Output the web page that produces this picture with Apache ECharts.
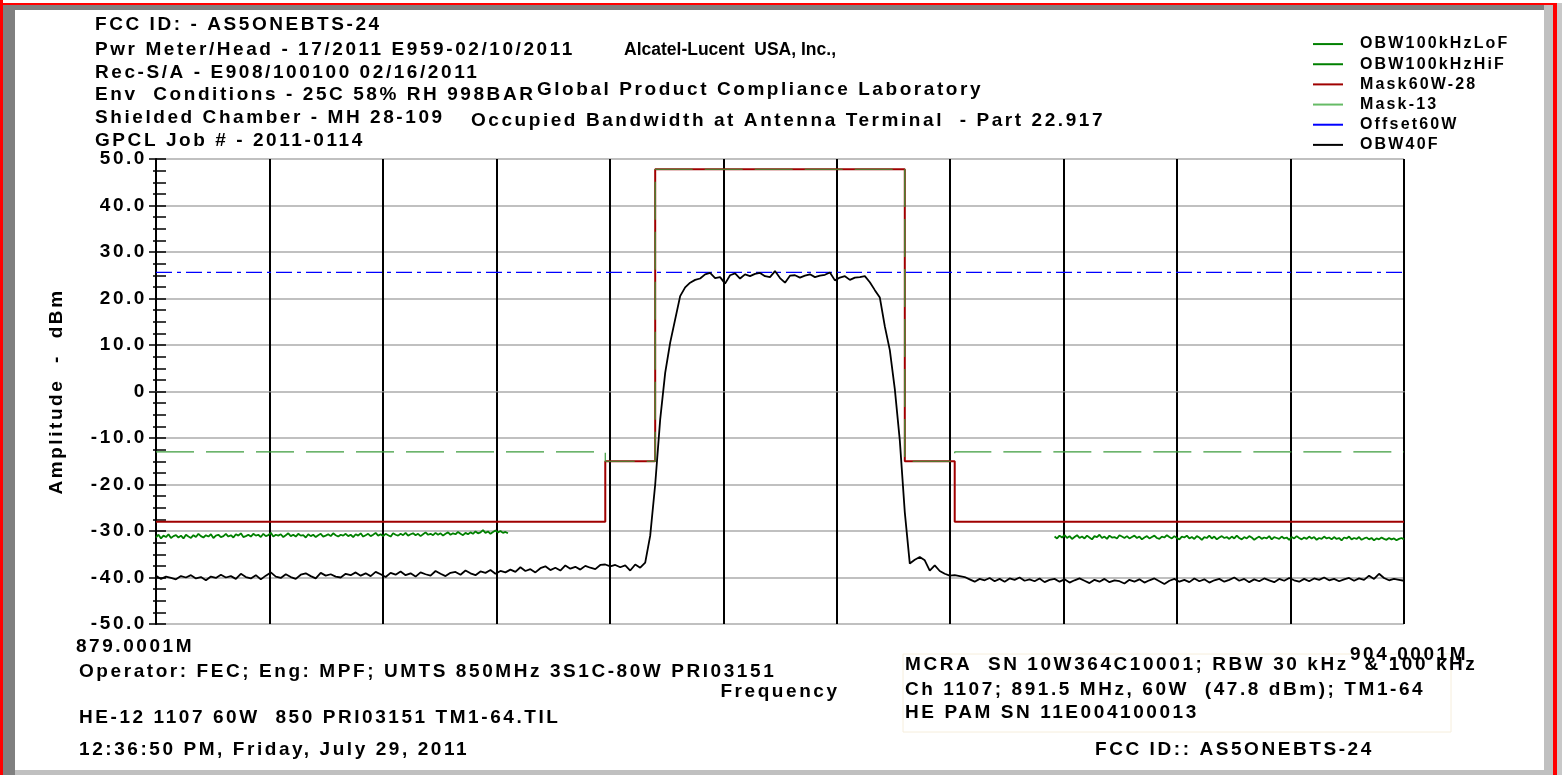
<!DOCTYPE html>
<html>
<head>
<meta charset="utf-8">
<script src="https://cdn.jsdelivr.net/npm/echarts@6/dist/echarts.min.js"></script>
<style>
html,body{margin:0;padding:0;background:#fff;}
#chart{width:1562px;height:775px;}
</style>
</head>
<body>
<div id="chart"></div>
<script>
// ---------- data ----------
const F0 = 879.0001;            // start frequency (MHz)
const F1 = 904.0001;            // stop frequency (MHz)
const SPAN = 25;                // MHz
const X_DIVISIONS = 11;
const xEndLabels = ['879.0001M', '904.0001M'];
const yMin = -50, yMax = 50, yStep = 10;

const headerLines = [
  'FCC ID: - AS5ONEBTS-24',
  'Pwr Meter/Head - 17/2011 E959-02/10/2011',
  'Rec-S/A - E908/100100 02/16/2011',
  'Env  Conditions - 25C 58% RH 998BAR',
  'Shielded Chamber - MH 28-109',
  'GPCL Job # - 2011-0114'
];
const titleLines = [
  'Alcatel-Lucent  USA, Inc.,',
  'Global Product Compliance Laboratory',
  'Occupied Bandwidth at Antenna Terminal  - Part 22.917'
];
const footLeft = [
  'Operator: FEC; Eng: MPF; UMTS 850MHz 3S1C-80W PRI03151',
  'HE-12 1107 60W  850 PRI03151 TM1-64.TIL',
  '12:36:50 PM, Friday, July 29, 2011'
];
const footRight = [
  'MCRA  SN 10W364C10001; RBW 30 kHz  & 100 kHz',
  'Ch 1107; 891.5 MHz, 60W  (47.8 dBm); TM1-64',
  'HE PAM SN 11E004100013'
];
const footFcc = 'FCC ID:: AS5ONEBTS-24';
const xAxisName = 'Frequency';
const yAxisName = 'Amplitude  -  dBm';

const seriesNames = ['OBW100kHzLoF', 'OBW100kHzHiF', 'Mask60W-28', 'Mask-13', 'Offset60W', 'OBW40F'];

// masks (MHz, dBm)
const maskFreq   = [879.0001, 888.0, 888.0, 889.0, 889.0, 894.0, 894.0, 895.0, 895.0, 904.0001];
const mask60W    = [-28, -28, -15, -15, 47.8, 47.8, -15, -15, -28, -28];
const mask13     = [-13, -13, -15, -15, 47.8, 47.8, -15, -15, -13, -13];
const offsetFreq = [879.0001, 904.0001];
const offset60W  = [25.6, 25.6];

// OBW 100 kHz low side trace: start 879.0001 MHz, step 0.05 MHz
const lofStart = 879.0001, lofStep = 0.05;
const lofValues = [
-31.4,-30.8,-31.6,-31.0,-31.3,-30.7,-31.5,-31.1,-30.9,-31.4,
-31.0,-31.6,-30.8,-31.2,-31.5,-30.9,-31.3,-30.6,-31.1,-31.4,
-30.9,-31.2,-30.7,-31.5,-31.0,-30.8,-31.3,-31.1,-30.6,-31.2,
-30.9,-31.4,-30.7,-31.0,-30.5,-31.3,-31.1,-30.8,-31.2,-30.6,
-31.0,-30.8,-31.3,-30.6,-31.1,-30.9,-30.4,-31.2,-30.8,-31.0,
-30.7,-31.3,-30.9,-30.5,-31.1,-30.8,-31.2,-30.6,-31.0,-30.9,
-31.4,-30.7,-31.1,-30.8,-31.3,-30.9,-30.6,-31.2,-31.0,-30.7,
-31.1,-30.5,-30.9,-31.2,-30.8,-31.0,-30.6,-31.1,-30.8,-31.3,
-30.7,-31.0,-30.5,-31.2,-30.9,-30.6,-31.1,-30.8,-30.4,-31.0,
-30.7,-31.1,-30.6,-30.9,-31.2,-30.5,-30.8,-31.0,-30.6,-30.9,
-30.4,-31.0,-30.7,-30.5,-30.9,-30.6,-31.1,-30.7,-30.3,-30.8,
-30.6,-30.9,-30.4,-30.8,-30.5,-31.0,-30.6,-30.3,-30.8,-30.5,
-30.7,-30.2,-30.6,-30.9,-30.4,-30.7,-30.3,-30.6,-30.1,-30.5,
-30.3,-29.8,-30.4,-30.1,-30.6,-30.2,-29.9,-30.3,-30.0,-30.4,
-30.2,-30.5
];

// OBW 100 kHz high side trace: start 897.0001 MHz, step 0.05 MHz
const hifStart = 897.0001, hifStep = 0.05;
const hifValues = [
-31.2,-31.6,-31.0,-31.4,-30.9,-31.5,-31.1,-31.7,-31.3,-30.9,
-31.5,-31.2,-31.6,-31.0,-31.4,-31.8,-31.1,-31.3,-30.8,-31.5,
-31.2,-31.7,-31.0,-31.4,-31.3,-31.6,-30.9,-31.2,-31.5,-31.1,
-31.6,-31.3,-31.0,-31.5,-31.2,-31.8,-31.4,-31.1,-31.6,-31.3,
-31.0,-31.5,-31.7,-31.2,-31.4,-30.9,-31.3,-31.6,-31.1,-31.5,
-31.8,-31.2,-31.4,-31.0,-31.6,-31.3,-31.7,-31.1,-31.4,-31.9,
-31.3,-31.5,-31.0,-31.6,-31.2,-31.8,-31.4,-31.1,-31.5,-31.3,
-31.7,-31.2,-31.6,-31.0,-31.5,-31.8,-31.3,-31.6,-31.1,-31.4,
-31.9,-31.5,-31.2,-31.7,-31.4,-31.6,-31.1,-31.8,-31.3,-31.5,
-31.7,-31.2,-31.6,-31.4,-31.9,-31.3,-31.6,-31.1,-31.5,-31.8,
-31.4,-31.7,-31.2,-31.6,-31.3,-31.9,-31.5,-31.7,-31.2,-31.6,
-31.4,-31.8,-31.3,-31.7,-31.5,-32.0,-31.4,-31.6,-31.2,-31.8,
-31.5,-31.7,-31.3,-31.9,-31.6,-31.4,-31.8,-31.5,-32.0,-31.6,
-31.8,-31.4,-31.7,-31.9,-31.5,-31.8,-31.6,-32.0,-31.7,-31.5,
-31.8
];

// OBW 40 trace: start 879.0001 MHz, step 0.1 MHz
const obwStart = 879.0001, obwStep = 0.1;
const obwValues = [
-39.6,-40.3,-39.8,-40.1,-40.4,-39.7,-40.0,-39.5,-40.2,-39.9,
-40.6,-39.8,-40.1,-39.4,-40.0,-39.7,-40.3,-39.2,-39.9,-40.2,
-39.5,-40.4,-39.6,-38.9,-39.8,-40.1,-39.3,-39.9,-40.3,-39.4,
-39.1,-39.7,-40.2,-39.0,-39.6,-39.3,-39.8,-40.0,-39.2,-39.5,
-38.9,-39.6,-39.1,-39.7,-38.8,-39.3,-39.9,-39.0,-39.4,-38.7,
-39.5,-39.1,-39.8,-38.9,-39.3,-39.6,-38.6,-39.2,-39.7,-39.0,
-38.8,-39.4,-38.5,-39.1,-39.5,-38.7,-39.0,-38.4,-39.2,-38.6,
-38.9,-38.3,-38.8,-37.8,-38.6,-38.2,-38.9,-38.0,-37.6,-38.4,
-37.9,-38.5,-37.4,-38.1,-37.7,-38.3,-37.5,-37.9,-38.2,-37.3,
-37.2,-37.6,-37.3,-37.8,-37.4,-38.5,-37.2,-37.9,-36.8,-31.0,
-20.0,-6.0,4.0,10.5,15.5,20.5,22.4,23.4,24.0,24.3,
25.2,25.5,24.4,24.6,23.2,25.0,25.4,24.3,25.2,24.8,
25.3,25.5,24.8,24.6,25.9,24.4,23.4,24.9,25.0,24.5,
24.9,25.2,24.6,24.9,25.1,25.6,23.9,24.5,24.8,24.0,
24.5,24.6,24.8,23.5,21.8,20.2,14.0,8.9,0.5,-10.5,
-26.0,-37.0,-36.2,-35.6,-36.3,-38.5,-37.4,-38.6,-39.2,-39.6,
-39.5,-39.7,-39.9,-40.4,-40.9,-40.3,-40.6,-40.1,-40.8,-40.3,
-40.9,-40.2,-40.5,-40.0,-40.7,-40.4,-40.8,-40.2,-41.0,-40.5,
-40.3,-40.9,-40.4,-41.1,-40.6,-40.2,-40.7,-41.2,-40.5,-40.9,
-40.3,-41.0,-40.6,-40.8,-41.3,-40.5,-40.9,-40.4,-41.1,-40.6,
-40.2,-40.8,-41.4,-40.7,-40.3,-40.9,-40.5,-41.0,-40.2,-40.8,
-40.4,-41.1,-40.6,-40.3,-40.9,-40.5,-40.0,-40.7,-40.3,-41.0,
-40.4,-40.8,-40.2,-40.6,-41.0,-40.3,-40.7,-40.1,-40.6,-40.9,
-40.3,-40.8,-40.2,-40.5,-40.0,-40.6,-40.3,-40.8,-40.4,-40.1,
-40.7,-40.2,-40.5,-39.6,-40.3,-39.2,-40.1,-40.6,-40.3,-40.5,
-40.7
];

// ---------- text spacing (the reference uses widely spaced bold glyphs) ----------
(function () {
  const P = CanvasRenderingContext2D.prototype;
  if (!('letterSpacing' in P)) return;
  const setLS = function (ctx) {
    const f = ctx.font || '';
    const m = /(\d+(?:\.\d+)?)px\s+"?Liberation/.exec(f);
    const s = m ? parseFloat(m[1]) * 0.135 : 0;
    ctx.letterSpacing = s.toFixed(2) + 'px';
  };
  const ft = P.fillText, st = P.strokeText, mt = P.measureText;
  P.fillText = function () { setLS(this); return ft.apply(this, arguments); };
  P.strokeText = function () { setLS(this); return st.apply(this, arguments); };
  P.measureText = function () { setLS(this); return mt.apply(this, arguments); };
})();

// ---------- build ----------
const FONT = '"Liberation Sans", Arial, sans-serif';       // spaced
const FONT_PLAIN = 'Arial, "Liberation Sans", sans-serif'; // unspaced
const toXY = (freqs, vals) => vals.map((v, i) => [freqs[i] - F0, v]);
const stepXY = (start, step, vals) => vals.map((v, i) => [start + i * step - F0, v]);

const chart = echarts.init(document.getElementById('chart'), null, {renderer: 'canvas'});

const graphics = [];
graphics.push(
  {type: 'rect', shape: {x: 0, y: 0, width: 1562, height: 775}, style: {fill: '#ffffff'}, silent: true, z: -10},
  {type: 'rect', shape: {x: 1556, y: 3, width: 6, height: 772}, style: {fill: '#c8c8c8'}, silent: true, z: -9},
  {type: 'rect', shape: {x: 3, y: 5, width: 1542, height: 5}, style: {fill: '#808080'}, silent: true, z: -9},
  {type: 'rect', shape: {x: 2, y: 5, width: 13, height: 770}, style: {fill: '#808080'}, silent: true, z: -9},
  {type: 'rect', shape: {x: 1544, y: 5, width: 10, height: 770}, style: {fill: '#c0c0c0'}, silent: true, z: -9},
  {type: 'rect', shape: {x: 15, y: 770, width: 1539, height: 5}, style: {fill: '#c0c0c0'}, silent: true, z: -9},
  {type: 'rect', shape: {x: 0, y: 0, width: 3, height: 775}, style: {fill: '#ff0000'}, silent: true, z: -8},
  {type: 'rect', shape: {x: 0, y: 3, width: 1557, height: 2}, style: {fill: '#ff0000'}, silent: true, z: -8},
  {type: 'rect', shape: {x: 1553, y: 3, width: 4, height: 772}, style: {fill: '#ff0000'}, silent: true, z: -8},
  {type: 'rect', shape: {x: 903, y: 654, width: 548, height: 78}, style: {fill: 'none', stroke: '#f6eedc', lineWidth: 1}, silent: true, z: -7}
);
const txt = (text, x, y, size, align, fam) => ({
  type: 'text', silent: true, z: 10,
  style: {text: text, x: x, y: y, font: 'bold ' + size + 'px ' + (fam || FONT), fill: '#000', align: align || 'left', verticalAlign: 'middle'}
});
const headerY = [25, 50, 73, 95, 118, 141];
headerLines.forEach((t, i) => graphics.push(txt(t, 95, headerY[i], 19)));
graphics.push(txt(titleLines[0], 730, 50, 17.5, 'center', FONT_PLAIN));
graphics.push(txt(titleLines[1], 760, 90, 19, 'center'));
graphics.push(txt(titleLines[2], 788, 121, 19, 'center'));
const footLeftY = [672, 718, 750];
footLeft.forEach((t, i) => graphics.push(txt(t, 79, footLeftY[i], 19)));
const footRightY = [665, 690, 713];
footRight.forEach((t, i) => graphics.push(txt(t, 905, footRightY[i], 19)));
graphics.push(txt(footFcc, 1095, 750, 19));

const option = {
  animation: false,
  backgroundColor: 'transparent',
  graphic: graphics,
  grid: {left: 156, right: 158, top: 159, bottom: 151, containLabel: false},
  legend: {
    orient: 'vertical', left: 1313, top: 35, padding: 0,
    itemWidth: 30, itemHeight: 16, itemGap: 2,
    data: seriesNames,
    textStyle: {fontFamily: FONT, fontWeight: 'bold', fontSize: 16, lineHeight: 16, color: '#000', padding: [0, 0, 0, 12]},
    icon: 'path://M0,7 L30,7 L30,9 L0,9 Z'
  },
  xAxis: {
    type: 'value', min: 0, max: SPAN, interval: SPAN / X_DIVISIONS,
    name: xAxisName, nameLocation: 'middle', nameGap: 57,
    nameTextStyle: {fontFamily: FONT, fontWeight: 'bold', fontSize: 19, color: '#000'},
    axisLine: {show: true, lineStyle: {color: '#c0c0c0', width: 2}},
    axisTick: {show: true, length: 6, lineStyle: {color: '#000', width: 1.5}},
    splitLine: {show: true, lineStyle: {color: '#000', width: 2}},
    axisLabel: {
      show: true, margin: 12, showMinLabel: true, showMaxLabel: true,
      formatter: function (v) {
        if (Math.abs(v) < 1e-6) return '{l|' + xEndLabels[0] + '}';
        if (Math.abs(v - SPAN) < 1e-6) return '{r|' + xEndLabels[1] + '}';
        return '';
      },
      rich: {
        l: {fontFamily: FONT, fontWeight: 'bold', fontSize: 19, color: '#000', padding: [0, 42, 0, 0]},
        r: {fontFamily: FONT, fontWeight: 'bold', fontSize: 19, color: '#000', padding: [8, 0, 0, 10]}
      }
    }
  },
  yAxis: [{
    type: 'value', min: yMin, max: yMax, interval: yStep,
    name: yAxisName, nameLocation: 'middle', nameGap: 88, nameRotate: 90,
    nameTextStyle: {fontFamily: FONT, fontWeight: 'bold', fontSize: 19, color: '#000'},
    axisLine: {show: true, lineStyle: {color: '#000', width: 2}},
    axisTick: {show: true, length: 7, lineStyle: {color: '#000', width: 1.5}},
    minorTick: {show: true, splitNumber: 4, length: 3, lineStyle: {color: '#000', width: 1.5}},
    splitLine: {show: true, lineStyle: {color: '#c0c0c0', width: 2}},
    axisLabel: {
      margin: 9, fontFamily: FONT, fontWeight: 'bold', fontSize: 19, color: '#000',
      formatter: v => (v === 0 ? '0' : v.toFixed(1))
    }
  }, {
    type: 'value', min: yMin, max: yMax, interval: yStep, position: 'left', offset: 0,
    axisLine: {show: false},
    axisTick: {show: true, inside: true, length: 10, lineStyle: {color: '#000', width: 1.5}},
    minorTick: {show: true, splitNumber: 4, length: 10, lineStyle: {color: '#000', width: 1.5}},
    splitLine: {show: false},
    axisLabel: {show: false}
  }],
  series: [
    {name: seriesNames[0], type: 'line', symbol: 'none', z: 3, data: stepXY(lofStart, lofStep, lofValues),
      lineStyle: {color: '#008000', width: 1.8}, itemStyle: {color: '#008000'}},
    {name: seriesNames[1], type: 'line', symbol: 'none', z: 3, data: stepXY(hifStart, hifStep, hifValues),
      lineStyle: {color: '#008000', width: 1.8}, itemStyle: {color: '#008000'}},
    {name: seriesNames[2], type: 'line', symbol: 'none', z: 4, data: toXY(maskFreq, mask60W),
      lineStyle: {color: '#a00000', width: 2}, itemStyle: {color: '#a00000'}},
    {name: seriesNames[3], type: 'line', symbol: 'none', z: 5, data: toXY(maskFreq, mask13),
      lineStyle: {color: '#3c9c3c', width: 1.2, type: [38, 12]}, itemStyle: {color: '#66bb66'}},
    {name: seriesNames[4], type: 'line', symbol: 'none', z: 5, data: toXY(offsetFreq, offset60W),
      lineStyle: {color: '#0000ff', width: 1.2, type: [16, 5, 4, 5]}, itemStyle: {color: '#0000ff'}},
    {name: seriesNames[5], type: 'line', symbol: 'none', z: 6, data: stepXY(obwStart, obwStep, obwValues),
      lineStyle: {color: '#000000', width: 1.8}, itemStyle: {color: '#000000'}}
  ]
};
chart.setOption(option);
</script>
</body>
</html>
